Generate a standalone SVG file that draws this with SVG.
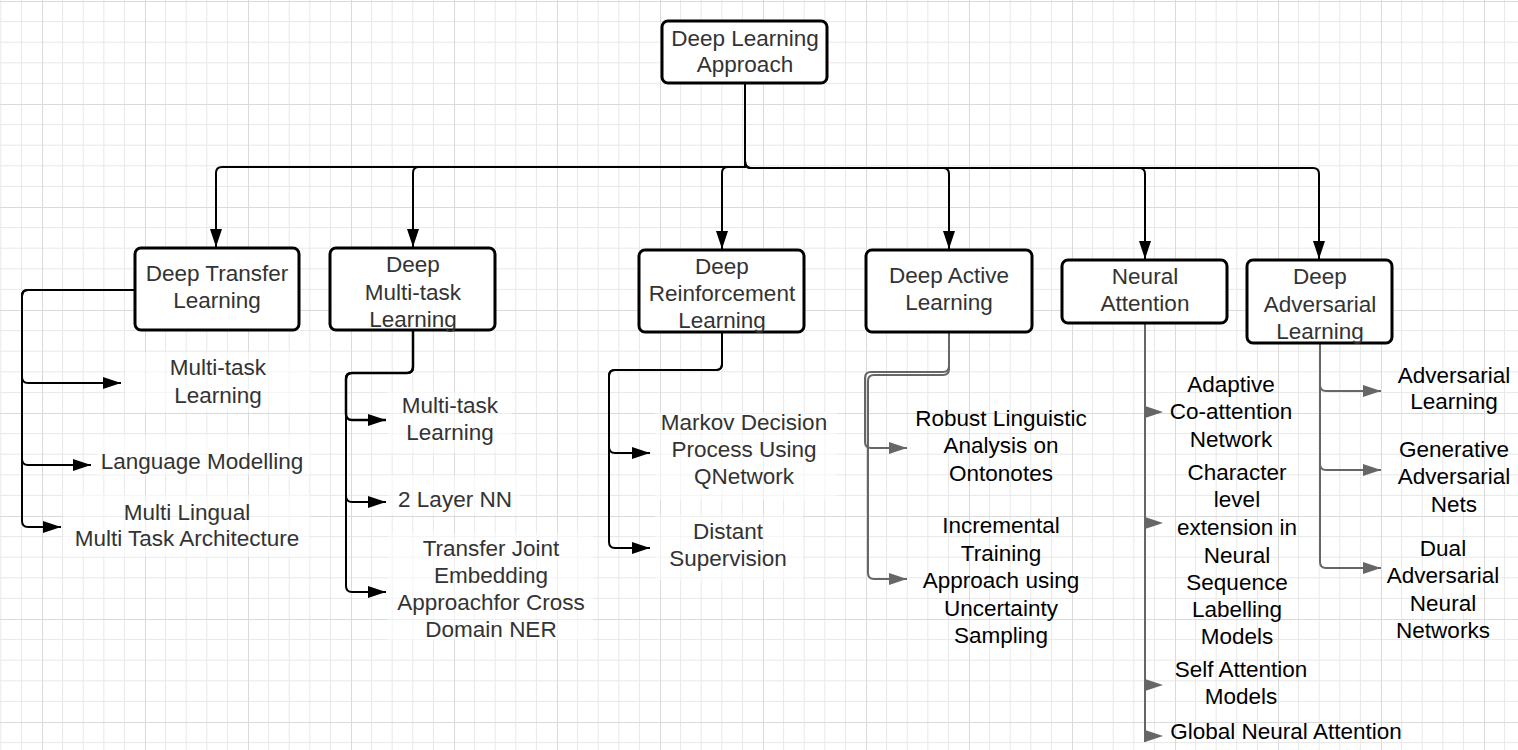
<svg xmlns="http://www.w3.org/2000/svg" width="1518" height="750" viewBox="0 0 1518 750">
<defs>
<pattern id="grid" patternUnits="userSpaceOnUse" x="42" y="1" width="103" height="103">
<path d="M20.6,0 V103 M41.2,0 V103 M61.8,0 V103 M82.4,0 V103 M0,20.6 H103 M0,41.2 H103 M0,61.8 H103 M0,82.4 H103" stroke="#e8e8e8" stroke-width="1" fill="none"/>
<path d="M0.5,0 V103 M0,0.5 H103" stroke="#dadada" stroke-width="1" fill="none"/>
</pattern>
<marker id="ab" viewBox="0 0 18 12" refX="18" refY="6" markerWidth="18" markerHeight="12" markerUnits="userSpaceOnUse" orient="auto"><path d="M0,0 L18,6 L0,12 z" fill="#000"/></marker>
<marker id="ag" viewBox="0 0 18 12" refX="18" refY="6" markerWidth="18" markerHeight="12" markerUnits="userSpaceOnUse" orient="auto"><path d="M0,0 L18,6 L0,12 z" fill="#666"/></marker>
</defs>
<style>
.box{fill:#fff;stroke:#000;stroke-width:3}
.t{font-family:"Liberation Sans",Arial,sans-serif;font-size:22.5px;fill:#333;text-anchor:middle}
.k{fill:#000}
.cb{fill:none;stroke:#000;stroke-width:2}
.cb2{fill:none;stroke:#000;stroke-width:2.5}
.cg{fill:none;stroke:#666;stroke-width:2}
.bg{fill:#fff;fill-opacity:0.55}
.ah{fill:#666}
</style>
<rect width="1518" height="750" fill="#fff"/>
<rect width="1518" height="750" fill="url(#grid)"/>

<g id="label-backgrounds">
<rect class="bg" x="125" y="352" width="185" height="60"/>
<rect class="bg" x="97" y="435" width="213" height="40"/>
<rect class="bg" x="63" y="495" width="247" height="62"/>
<rect class="bg" x="388" y="392" width="124" height="61"/>
<rect class="bg" x="388" y="475" width="132" height="40"/>
<rect class="bg" x="388" y="533" width="205" height="107"/>
<rect class="bg" x="655" y="412" width="182" height="88"/>
<rect class="bg" x="655" y="515" width="148" height="65"/>
</g>

<g id="connectors">
<path class="cb" d="M745,84 V167 H222 Q216,167 216,173 V247" marker-end="url(#ab)"/>
<path class="cb" d="M745,84 V167 H419 Q413,167 413,173 V247" marker-end="url(#ab)"/>
<path class="cb" d="M745,84 V167 H728 Q722,167 722,173 V249" marker-end="url(#ab)"/>
<path class="cb" d="M745,84 V161 Q745,168 751,168 H943 Q949,168 949,174 V249" marker-end="url(#ab)"/>
<path class="cb" d="M745,84 V161 Q745,168 751,168 H1139 Q1145,168 1145,174 V259" marker-end="url(#ab)"/>
<path class="cb" d="M745,84 V161 Q745,168 751,168 H1313 Q1319,168 1319,174 V259" marker-end="url(#ab)"/>

<path class="cb" d="M135,290 H28 Q22,290 22,296 V377 Q22,383 28,383 H121" marker-end="url(#ab)"/>
<path class="cb" d="M135,290 H28 Q22,290 22,296 V459 Q22,465 28,465 H91" marker-end="url(#ab)"/>
<path class="cb" d="M135,290 H28 Q22,290 22,296 V521 Q22,527 28,527 H61" marker-end="url(#ab)"/>

<path class="cb2" d="M413,331 V367 Q413,373 407,373 H352 Q346,373 346,379 V414 Q346,420 352,420 H386" marker-end="url(#ab)"/>
<path class="cb" d="M413,331 V367 Q413,373 407,373 H352 Q346,373 346,379 V496 Q346,502 352,502 H386" marker-end="url(#ab)"/>
<path class="cb" d="M413,331 V367 Q413,373 407,373 H352 Q346,373 346,379 V586 Q346,592 352,592 H386" marker-end="url(#ab)"/>

<path class="cb" d="M722,333 V364 Q722,370 716,370 H615 Q609,370 609,376 V447 Q609,453 615,453 H650" marker-end="url(#ab)"/>
<path class="cb" d="M722,333 V364 Q722,370 716,370 H615 Q609,370 609,376 V542 Q609,548 615,548 H650" marker-end="url(#ab)"/>

<path class="cg" d="M949,333 V366 Q949,372 943,372 H871 Q865,372 865,378 V442 Q865,448 871,448 H907" marker-end="url(#ag)"/>
<path class="cg" d="M949,333 V369 Q949,375 943,375 H874 Q868,375 868,381 V573 Q868,579 874,579 H907" marker-end="url(#ag)"/>

<path class="cg" d="M1145,323 V742"/>
<polygon class="ah" points="1145,406 1163,412 1145,418"/>
<polygon class="ah" points="1145,517 1163,523 1145,529"/>
<polygon class="ah" points="1145,679 1163,685 1145,691"/>
<polygon class="ah" points="1145,730 1163,736 1145,742"/>

<path class="cg" d="M1320,343 V385 Q1320,391 1326,391 H1381" marker-end="url(#ag)"/>
<path class="cg" d="M1320,343 V464 Q1320,470 1326,470 H1381" marker-end="url(#ag)"/>
<path class="cg" d="M1320,343 V562 Q1320,568 1326,568 H1381" marker-end="url(#ag)"/>
</g>

<g id="root">
<rect class="box" x="662" y="21" width="165" height="62" rx="6"/>
<text class="t" x="745" y="46">Deep Learning</text>
<text class="t" x="745" y="72">Approach</text>
</g>

<g id="deep-transfer">
<rect class="box" x="135" y="248" width="164" height="82" rx="6"/>
<text class="t" x="217" y="281">Deep Transfer</text>
<text class="t" x="217" y="308">Learning</text>
</g>

<g id="deep-multitask">
<rect class="box" x="330" y="248" width="165" height="82" rx="6"/>
<text class="t" x="413" y="272">Deep</text>
<text class="t" x="413" y="299.5">Multi-task</text>
<text class="t" x="413" y="327">Learning</text>
</g>

<g id="deep-reinforcement">
<rect class="box" x="639" y="250" width="165" height="82" rx="6"/>
<text class="t" x="722" y="274">Deep</text>
<text class="t" x="722" y="301">Reinforcement</text>
<text class="t" x="722" y="328">Learning</text>
</g>

<g id="deep-active">
<rect class="box" x="866" y="250" width="166" height="82" rx="6"/>
<text class="t" x="949" y="283">Deep Active</text>
<text class="t" x="949" y="310">Learning</text>
</g>

<g id="neural-attention">
<rect class="box" x="1062" y="260" width="165" height="63" rx="6"/>
<text class="t" x="1145" y="284">Neural</text>
<text class="t" x="1145" y="311">Attention</text>
</g>

<g id="deep-adversarial">
<rect class="box" x="1247" y="260" width="145" height="83" rx="6"/>
<text class="t" x="1320" y="284">Deep</text>
<text class="t" x="1320" y="312">Adversarial</text>
<text class="t" x="1320" y="339">Learning</text>
</g>

<g id="transfer-multitask"><text class="t" x="218" y="375">Multi-task</text><text class="t" x="218" y="403">Learning</text></g>
<g id="transfer-language"><text class="t" x="202" y="469">Language Modelling</text></g>
<g id="transfer-multilingual"><text class="t" x="187" y="520">Multi Lingual</text><text class="t" x="187" y="546">Multi Task Architecture</text></g>

<g id="multi-multitask"><text class="t" x="450" y="413">Multi-task</text><text class="t" x="450" y="440">Learning</text></g>
<g id="multi-2layer"><text class="t" x="455" y="507">2 Layer NN</text></g>
<g id="multi-transfer-joint"><text class="t" x="491" y="556">Transfer Joint</text><text class="t" x="491" y="583">Embedding</text><text class="t" x="491" y="610">Approachfor Cross</text><text class="t" x="491" y="637">Domain NER</text></g>

<g id="rl-markov"><text class="t" x="744" y="430">Markov Decision</text><text class="t" x="744" y="457">Process Using</text><text class="t" x="744" y="484">QNetwork</text></g>
<g id="rl-distant"><text class="t" x="728" y="539">Distant</text><text class="t" x="728" y="566">Supervision</text></g>

<g id="active-robust"><text class="t k" x="1001" y="426">Robust Linguistic</text><text class="t k" x="1001" y="453">Analysis on</text><text class="t k" x="1001" y="481">Ontonotes</text></g>
<g id="active-incremental"><text class="t k" x="1001" y="533">Incremental</text><text class="t k" x="1001" y="560.5">Training</text><text class="t k" x="1001" y="588">Approach using</text><text class="t k" x="1001" y="615.5">Uncertainty</text><text class="t k" x="1001" y="643">Sampling</text></g>

<g id="attn-adaptive"><text class="t k" x="1231" y="392">Adaptive</text><text class="t k" x="1231" y="419">Co-attention</text><text class="t k" x="1231" y="447">Network</text></g>
<g id="attn-character"><text class="t k" x="1237" y="480">Character</text><text class="t k" x="1237" y="507">level</text><text class="t k" x="1237" y="535">extension in</text><text class="t k" x="1237" y="562.5">Neural</text><text class="t k" x="1237" y="590">Sequence</text><text class="t k" x="1237" y="617">Labelling</text><text class="t k" x="1237" y="644">Models</text></g>
<g id="attn-self"><text class="t k" x="1241" y="677">Self Attention</text><text class="t k" x="1241" y="704">Models</text></g>
<g id="attn-global"><text class="t k" x="1286" y="739">Global Neural Attention</text></g>

<g id="adv-learning"><text class="t k" x="1454" y="383">Adversarial</text><text class="t k" x="1454" y="409">Learning</text></g>
<g id="adv-generative"><text class="t k" x="1454" y="457">Generative</text><text class="t k" x="1454" y="484">Adversarial</text><text class="t k" x="1454" y="512">Nets</text></g>
<g id="adv-dual"><text class="t k" x="1443" y="556">Dual</text><text class="t k" x="1443" y="583">Adversarial</text><text class="t k" x="1443" y="611">Neural</text><text class="t k" x="1443" y="638">Networks</text></g>
</svg>
